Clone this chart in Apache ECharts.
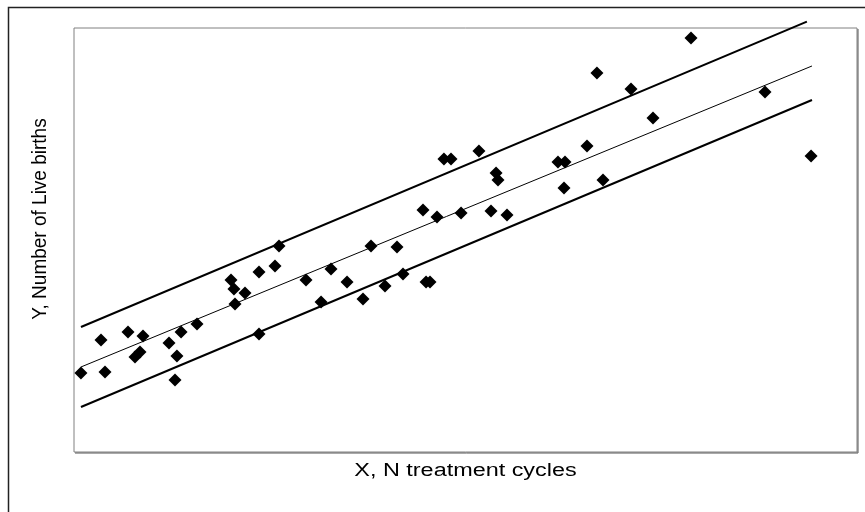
<!DOCTYPE html>
<html><head><meta charset="utf-8">
<script src="https://cdn.jsdelivr.net/npm/echarts@6/dist/echarts.min.js"></script>
<style>html,body{margin:0;padding:0;background:#fff}#c{width:865px;height:512px}</style>
</head><body><div id="c"></div>
<script>
const cyclesX = [0.89,3.96,3.45,6.90,8.81,8.43,7.79,12.13,13.15,12.90,13.67,15.71,20.05,20.43,21.84,20.56,23.63,25.67,26.18,23.63,29.63,32.82,34.87,31.55,36.91,37.93,41.25,39.72,42.02,44.96,45.47,44.57,46.36,49.43,53.26,55.30,47.25,48.15,51.72,53.90,54.15,61.81,62.71,62.58,65.52,67.56,66.79,71.14,73.95,78.80,88.25,94.13];
const liveBirthsY = [18.63,18.87,26.42,28.30,27.36,23.58,22.41,25.71,22.64,16.98,28.30,30.19,40.57,38.44,37.50,34.91,42.45,43.87,48.58,27.83,40.57,43.16,40.09,35.38,36.08,48.58,48.35,39.15,41.98,40.09,40.09,57.08,55.42,56.37,56.84,55.90,69.10,69.10,70.99,65.80,64.15,68.40,68.40,62.26,72.17,64.15,89.39,85.61,78.77,97.64,84.91,69.81];
// Regression line and band end points
const fitX = [0.89, 94.25];
const fitY = [20.05, 91.04];
const upperX = [0.89, 93.6];
const upperY = [29.48, 101.5];
const lowerX = [0.89, 94.25];
const lowerY = [10.61, 83.02];

const xAxisTitle = 'X, N treatment cycles';
const yAxisTitle = 'Y, Number of Live births';

const zip = (a, b) => a.map((v, i) => [v, b[i]]);
const chart = echarts.init(document.getElementById('c'), null, {renderer: 'canvas'});
const font = 'Liberation Sans, Arial, sans-serif';
chart.setOption({
  animation: false,
  backgroundColor: '#fff',
  grid: {left: 74, top: 28, right: 8, bottom: 60, show: true, borderColor: '#808080', borderWidth: 1, containLabel: false, outerBoundsMode: 'none'},
  xAxis: {
    type: 'value', min: 0, max: 100,
    axisLine: {show: false}, axisTick: {show: false}, axisLabel: {show: false}, splitLine: {show: false}
  },
  yAxis: {
    type: 'value', min: 0, max: 100,
    axisLine: {show: false}, axisTick: {show: false}, axisLabel: {show: false}, splitLine: {show: false}
  },
  graphic: [
    {type: 'rect', silent: true, shape: {x: 8.5, y: 7.5, width: 1000, height: 1000}, style: {fill: null, stroke: '#222', lineWidth: 1.5}},
    {type: 'polyline', silent: true, shape: {points: [[858, 29], [858, 453], [75, 453]]}, style: {fill: null, stroke: '#555', lineWidth: 1}},
    {type: 'text', silent: true, x: 465.5, y: 462, scaleX: 1.3,
      style: {text: xAxisTitle, fontFamily: font, fontSize: 18, fill: '#000', align: 'center', verticalAlign: 'top'}},
    {type: 'text', silent: true, x: 40, y: 219, rotation: Math.PI / 2, scaleY: 1.1,
      style: {text: yAxisTitle, fontFamily: font, fontSize: 19, fill: '#000', align: 'center', verticalAlign: 'middle'}}
  ],
  series: [
    {type: 'line', data: zip(upperX, upperY), symbol: 'none', clip: false, silent: true, lineStyle: {color: '#000', width: 2}},
    {type: 'line', data: zip(fitX, fitY), symbol: 'none', clip: false, silent: true, lineStyle: {color: '#000', width: 1}},
    {type: 'line', data: zip(lowerX, lowerY), symbol: 'none', clip: false, silent: true, lineStyle: {color: '#000', width: 2}},
    {type: 'scatter', data: zip(cyclesX, liveBirthsY), symbol: 'diamond', symbolSize: 13, itemStyle: {color: '#000', opacity: 1}, silent: true}
  ]
});
</script></body></html>
